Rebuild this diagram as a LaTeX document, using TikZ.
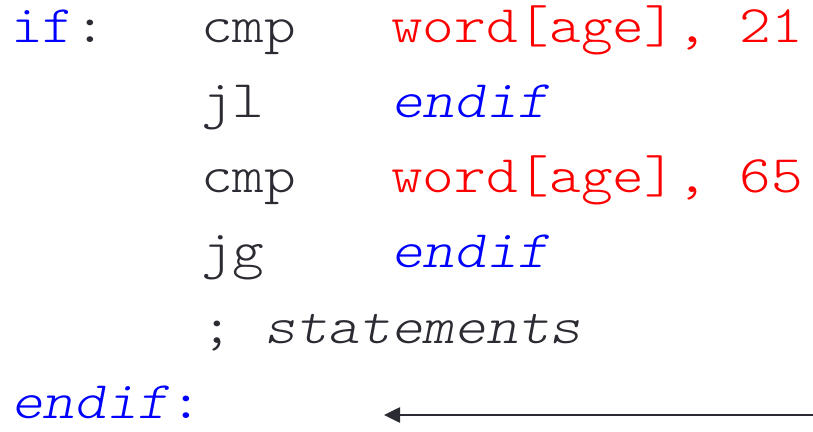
\documentclass[tikz,border=0pt]{standalone}
\usepackage{fontspec}
\setmonofont{lmmonolt10-regular.otf}[ItalicFont=lmmonolt10-oblique.otf, FakeStretch=1.143]
\usetikzlibrary{arrows.meta}
\definecolor{codeblue}{RGB}{0,0,255}
\definecolor{codered}{RGB}{255,0,0}
\definecolor{codegray}{RGB}{43,43,51}

\begin{document}
\begin{tikzpicture}[
            x=1pt, y=1pt,
            code/.style={anchor=base west, inner sep=0pt, font=\ttfamily\fontsize{52.8}{60}\selectfont, text=codegray},
            lbl/.style={code, text=codeblue},
            operand/.style={code, text=codered},
            target/.style={code, text=codeblue, font=\ttfamily\itshape\fontsize{52.8}{60}\selectfont},
            arrow/.style={-{Triangle[length=16pt, width=15pt]}, line width=2.6pt, draw=codegray}
        ]
        \useasboundingbox (0,0) rectangle (813,431);
        % labels, opcodes and operands in three columns
        \node[code] (iflbl) at (11,388) {\textcolor{codeblue}{if}:};
        \node[code] (cmpa) at (201,388) {cmp};
        \node[operand] (agea) at (391,388) {word[age], 21};
        \node[code] (jl) at (201,313) {jl};
        \node[target] (targeta) at (391,313) {endif};
        \node[code] (cmpb) at (201,238) {cmp};
        \node[operand] (ageb) at (391,238) {word[age], 65};
        \node[code] (jg) at (201,163) {jg};
        \node[target] (targetb) at (391,163) {endif};
        \node[code] (comment) at (201,88) {; \textit{statements}};
        \node[target] (endiflbl) at (11,13) {endif\textup{:}};
        % pointer to the end label
        \coordinate (arrowstart) at (813,16);
        \coordinate (arrowend) at (384,16);
        \draw[arrow] (arrowstart) -- (arrowend);
        \end{tikzpicture}
\end{document}
